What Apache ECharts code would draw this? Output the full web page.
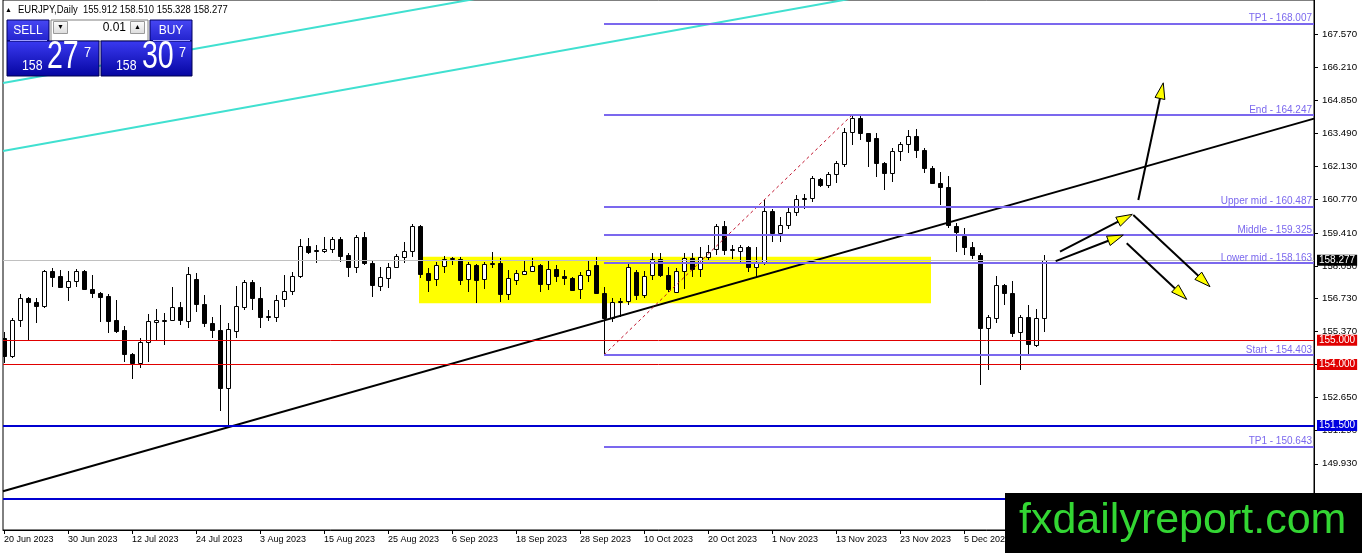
<!DOCTYPE html>
<html><head><meta charset="utf-8">
<script src="https://cdn.jsdelivr.net/npm/echarts@6.0.0/dist/echarts.min.js"></script>
<style>html,body{margin:0;padding:0;background:#fff}#c{width:1362px;height:553px}</style>
</head><body><div id="c"></div>
<script>
// ---- data (EURJPY daily, bar index 0 = 20 Jun 2023) ----
const opens = [155.09,154.36,155.83,156.74,156.57,156.41,157.85,157.64,157.19,157.43,157.85,157.11,156.94,156.82,155.83,155.42,154.44,154.07,154.93,155.75,155.79,155.83,156.37,155.79,157.52,156.49,155.71,155.42,153.04,155.38,156.37,157.39,156.74,155.96,155.96,156.70,157.02,157.64,158.87,158.66,158.66,158.74,159.16,158.50,158.01,159.24,158.17,157.23,157.56,158.01,158.42,158.66,159.69,157.76,157.52,158.05,158.34,158.34,157.52,158.09,157.52,158.13,158.17,156.90,157.48,157.72,157.85,158.09,157.31,157.93,157.64,157.56,157.11,157.68,158.09,156.94,155.91,156.57,156.61,157.80,156.86,157.68,158.34,157.68,156.98,157.85,158.38,157.93,158.42,158.74,159.69,158.70,158.66,158.83,158.01,158.17,160.31,159.41,159.73,160.27,160.80,160.84,161.62,161.37,161.82,162.24,163.55,164.13,163.51,163.30,162.28,161.87,162.77,163.06,163.39,162.81,162.07,161.45,161.29,159.69,159.28,158.83,158.50,155.50,155.91,157.27,156.94,155.34,155.96,154.81,155.912];
const highs = [155.34,155.92,156.90,156.78,156.74,157.89,157.97,157.89,157.85,157.93,157.89,157.68,156.98,156.90,156.66,155.59,154.48,155.09,156.08,156.29,156.12,157.19,156.57,158.01,157.76,156.86,155.96,156.45,155.71,157.23,157.48,157.48,157.19,156.25,156.86,157.68,157.80,159.16,159.20,158.91,159.24,159.24,159.24,158.58,159.32,159.45,158.30,158.01,158.17,158.54,159.03,159.77,159.72,157.97,158.21,158.46,158.42,158.42,158.21,158.13,158.21,158.62,158.38,157.89,157.89,158.25,158.38,158.12,158.25,158.09,157.89,157.60,157.80,158.25,158.42,157.19,156.74,156.74,158.13,157.89,157.85,158.58,158.58,158.01,157.97,158.58,158.58,158.83,158.91,159.77,159.90,158.91,158.91,158.85,158.83,160.76,160.39,160.06,160.43,160.97,161.00,161.74,161.66,161.91,162.36,163.72,164.247,164.21,163.53,163.51,162.32,162.89,163.14,163.63,163.67,162.89,162.15,161.91,161.74,159.82,159.61,159.03,158.58,156.04,157.64,157.29,157.43,156.04,156.45,156.29,158.510];
const lows = [154.07,154.27,155.55,155.00,155.71,156.33,157.19,157.15,156.61,157.19,157.08,156.74,155.75,155.30,155.30,154.11,153.41,153.86,154.11,155.00,154.81,155.79,155.63,155.50,156.16,155.55,155.09,152.10,151.40,155.09,156.25,156.25,155.50,155.79,155.75,156.37,156.86,157.56,158.54,158.17,158.58,158.58,158.21,157.60,157.76,158.09,156.78,157.02,157.15,157.97,158.17,158.42,157.56,156.98,157.23,157.76,158.09,157.27,156.98,156.53,157.11,157.97,156.57,156.66,157.27,157.68,157.80,156.98,157.06,157.39,157.27,157.03,156.70,157.39,156.92,154.403,155.75,155.96,156.45,156.66,156.74,157.48,157.60,156.98,156.96,157.11,157.60,157.60,158.30,158.50,158.50,158.34,158.21,157.80,157.60,158.09,159.04,159.04,159.57,160.10,160.39,160.68,161.29,161.25,161.45,162.11,163.02,163.22,162.11,161.70,161.17,161.50,162.36,162.69,162.48,161.87,161.43,160.55,159.61,158.62,158.50,158.34,153.17,153.78,155.71,156.45,155.13,153.78,154.40,154.73,155.328];
const closes = [154.36,155.83,156.74,156.57,156.41,157.85,157.60,157.19,157.43,157.85,157.11,156.94,156.78,155.79,155.38,154.44,154.07,154.93,155.79,155.83,155.83,156.37,155.83,157.72,156.49,155.71,155.42,153.04,155.46,156.41,157.39,156.74,155.96,156.00,156.66,157.02,157.64,158.87,158.62,158.70,158.74,159.16,158.46,158.01,159.24,158.17,157.27,157.60,158.01,158.46,158.66,159.69,157.72,157.48,158.09,158.34,158.38,157.48,158.13,157.48,158.13,158.17,156.90,157.56,157.76,157.85,158.05,157.31,157.93,157.64,157.56,157.06,157.68,157.89,156.94,155.91,156.57,156.61,158.01,156.86,157.64,158.34,157.68,157.11,157.85,158.38,157.93,158.42,158.62,159.69,158.70,158.74,158.83,158.01,158.17,160.31,159.41,159.73,160.27,160.80,160.84,161.66,161.37,161.82,162.28,163.55,164.13,163.51,163.18,162.28,161.87,162.77,163.06,163.39,162.81,162.07,161.45,161.29,159.73,159.45,158.83,158.50,155.50,155.96,157.27,156.94,155.30,155.96,154.85,155.91,158.277];

const tickIndex  = [0,8,16,24,32,40,48,56,64,72,80,88,96,104,112,120,128];
const tickLabels = ['20 Jun 2023','30 Jun 2023','12 Jul 2023','24 Jul 2023','3 Aug 2023','15 Aug 2023','25 Aug 2023','6 Sep 2023','18 Sep 2023','28 Sep 2023','10 Oct 2023','20 Oct 2023','1 Nov 2023','13 Nov 2023','23 Nov 2023','5 Dec 2023','15 Dec 2023'];
const priceTicks = [149.93,151.29,152.65,154.01,155.37,156.73,158.05,159.41,160.77,162.13,163.49,164.85,166.21,167.57];

const fibLevels = [168.007,164.247,160.487,159.325,158.163,154.403,150.643];
const fibNames  = ['TP1','End','Upper mid','Middle','Lower mid','Start','TP1'];
const fibStartBar = 75;
const redLevels  = [155.000,154.000];
const blueLevels = [151.500,148.500];
const blueTagged = [true,false];
const bidPrice = 158.277;
const trendLine    = [[-0.125,148.80],[163.75,164.10]];
const channelUpper = [[-0.125,165.56],[59.5,169.05]];
const channelLower = [[-0.125,162.77],[107,169.09]];
const fiboBase     = [[75,154.403],[106,164.247]];
const arrows = [[141.79,160.76,144.91,165.57],[132.0,158.64,141.04,160.17],[131.46,158.25,139.91,159.32],[141.16,160.14,150.75,157.20],[140.34,158.98,147.84,156.68]];
const zone = {x1:51.875, x2:115.875, y1:158.43, y2:156.52};

const X_MIN=-0.125, X_MAX=163.75, Y_MIN=147.21, Y_MAX=168.97;
const FONT='Liberation Sans';

const candleData = opens.map((o,i)=>[i,o,highs[i],lows[i],closes[i]]);

function renderCandle(params, api){
  const i=api.value(0), o=api.value(1), h=api.value(2), l=api.value(3), c=api.value(4);
  const pO=api.coord([i,o]), pC=api.coord([i,c]), pH=api.coord([i,h]), pL=api.coord([i,l]);
  const x=Math.round(pO[0]);
  const up=c>=o;
  let top=Math.round(Math.min(pO[1],pC[1])), bot=Math.round(Math.max(pO[1],pC[1]));
  if(bot-top<1) bot=top+1;
  return {type:'group', children:[
    {type:'line', shape:{x1:x+0.5,y1:Math.round(pH[1]),x2:x+0.5,y2:Math.round(pL[1])}, style:{stroke:'#000',lineWidth:1}},
    {type:'rect', shape:{x:x-1.5,y:top+0.5,width:4,height:bot-top}, style:{fill:up?'#fff':'#000',stroke:'#000',lineWidth:1}}
  ]};
}
function renderArrow(params, api){
  const a=api.coord([api.value(0),api.value(1)]), b=api.coord([api.value(2),api.value(3)]);
  const dx=b[0]-a[0], dy=b[1]-a[1], len=Math.hypot(dx,dy), ux=dx/len, uy=dy/len;
  const L=16, W=5, bx=b[0]-ux*L, by=b[1]-uy*L, px=-uy, py=ux;
  return {type:'group', children:[
    {type:'line', shape:{x1:a[0],y1:a[1],x2:bx,y2:by}, style:{stroke:'#000',lineWidth:2}},
    {type:'polygon', shape:{points:[[b[0],b[1]],[bx+px*W,by+py*W],[bx-px*W,by-py*W]]}, style:{fill:'#ffff00',stroke:'#000',lineWidth:1}}
  ]};
}
function tag(text,bg){
  return {show:true, position:'end', distance:3, formatter:text, backgroundColor:bg, color:'#fff',
          padding:[1,2,0,2], fontSize:10, fontFamily:FONT};
}

const markLines = [];
fibLevels.forEach((v,k)=>{
  markLines.push([{coord:[fibStartBar,v], lineStyle:{color:'#7b68ee',width:2,type:'solid'},
    label:{show:true, position:'insideEndTop', distance:[2,0], formatter:fibNames[k]+' - '+v.toFixed(3), color:'#7b68ee', fontSize:10, fontFamily:FONT}},
    {coord:[X_MAX,v]}]);
});
redLevels.forEach(v=>markLines.push({yAxis:v, lineStyle:{color:'#e00000',width:1,type:'solid'}, label:tag(v.toFixed(3),'#e00000')}));
blueLevels.forEach((v,k)=>markLines.push({yAxis:v, lineStyle:{color:'#0000d0',width:2,type:'solid'}, label:blueTagged[k]?tag(v.toFixed(3),'#0000e0'):{show:false}}));
markLines.push({yAxis:bidPrice, lineStyle:{color:'#c0c0c0',width:1,type:'solid'}, label:tag(bidPrice.toFixed(3),'#000')});

const blueGrad = new echarts.graphic.LinearGradient(0,0,0,1,[{offset:0,color:'#3a3af2'},{offset:1,color:'#0505a0'}]);
const btnGrad  = new echarts.graphic.LinearGradient(0,0,0,1,[{offset:0,color:'#4848f5'},{offset:1,color:'#2222cc'}]);
const greyGrad = new echarts.graphic.LinearGradient(0,0,0,1,[{offset:0,color:'#fdfdfd'},{offset:1,color:'#dcdcdc'}]);

const graphics = [
  {type:'text', x:5, y:10, z:50, style:{text:'▲', fontSize:7, fill:'#000', fontFamily:FONT, verticalAlign:'middle'}},
  {type:'text', x:18, y:10, scaleX:0.86, z:50, style:{text:'EURJPY,Daily  155.912 158.510 155.328 158.277', fontSize:11, fill:'#000', fontFamily:FONT, verticalAlign:'middle'}},
  // one-click panel
  {type:'rect', shape:{x:7,y:20,width:42,height:21}, z:50, style:{fill:btnGrad, stroke:'#000060', lineWidth:1}},
  {type:'text', x:28, y:31, z:51, style:{text:'SELL', fontSize:12, fill:'#fff', fontFamily:FONT, align:'center', verticalAlign:'middle'}},
  {type:'rect', shape:{x:51,y:20,width:97,height:21}, z:50, style:{fill:'#fff', stroke:'#808080', lineWidth:1}},
  {type:'rect', shape:{x:53.5,y:21.5,width:14,height:12}, z:51, style:{fill:greyGrad, stroke:'#9a9a9a', lineWidth:1}},
  {type:'text', x:60.5, y:27.5, z:52, style:{text:'▼', fontSize:7, fill:'#000', align:'center', verticalAlign:'middle'}},
  {type:'rect', shape:{x:130.5,y:21.5,width:14,height:12}, z:51, style:{fill:greyGrad, stroke:'#9a9a9a', lineWidth:1}},
  {type:'text', x:137.5, y:27.5, z:52, style:{text:'▲', fontSize:7, fill:'#000', align:'center', verticalAlign:'middle'}},
  {type:'text', x:126, y:27.5, z:52, style:{text:'0.01', fontSize:12, fill:'#000', fontFamily:FONT, align:'right', verticalAlign:'middle'}},
  {type:'rect', shape:{x:150,y:20,width:42,height:21}, z:50, style:{fill:btnGrad, stroke:'#000060', lineWidth:1}},
  {type:'text', x:171, y:31, z:51, style:{text:'BUY', fontSize:12, fill:'#fff', fontFamily:FONT, align:'center', verticalAlign:'middle'}},
  {type:'line', shape:{x1:10,y1:40.5,x2:47,y2:40.5}, z:52, style:{stroke:'#9f9fff', lineWidth:1}},
  {type:'line', shape:{x1:153,y1:40.5,x2:190,y2:40.5}, z:52, style:{stroke:'#9f9fff', lineWidth:1}},
  {type:'rect', shape:{x:7,y:41,width:92,height:35}, z:50, style:{fill:blueGrad, stroke:'#000050', lineWidth:1}},
  {type:'rect', shape:{x:101,y:41,width:91,height:35}, z:50, style:{fill:blueGrad, stroke:'#000050', lineWidth:1}},
  {type:'text', x:22, y:66, scaleX:0.82, z:51, style:{text:'158', fontSize:15, fill:'#fff', fontFamily:FONT, verticalAlign:'middle'}},
  {type:'text', x:47, y:58, scaleX:0.75, z:51, style:{text:'27', fontSize:38, fill:'#fff', fontFamily:FONT, verticalAlign:'middle'}},
  {type:'text', x:84, y:53, scaleX:0.85, z:51, style:{text:'7', fontSize:15, fill:'#fff', fontFamily:FONT, verticalAlign:'middle'}},
  {type:'text', x:116, y:66, scaleX:0.82, z:51, style:{text:'158', fontSize:15, fill:'#fff', fontFamily:FONT, verticalAlign:'middle'}},
  {type:'text', x:142, y:58, scaleX:0.75, z:51, style:{text:'30', fontSize:38, fill:'#fff', fontFamily:FONT, verticalAlign:'middle'}},
  {type:'text', x:179, y:53, scaleX:0.85, z:51, style:{text:'7', fontSize:15, fill:'#fff', fontFamily:FONT, verticalAlign:'middle'}},
  // watermark
  {type:'rect', shape:{x:1005,y:493,width:357,height:60}, z:100, style:{fill:'#000'}},
  {type:'text', x:1019, y:521, z:101, style:{text:'fxdailyreport.com', fontSize:43, fill:'#33d633', fontFamily:FONT, verticalAlign:'middle'}}
];

const chart = echarts.init(document.getElementById('c'), null, {renderer:'canvas'});
chart.setOption({
  animation:false,
  backgroundColor:'#fff',
  grid:{left:3, right:48, top:0, bottom:23, show:true, borderColor:'#000', borderWidth:1, backgroundColor:'transparent'},
  xAxis:{type:'value', min:X_MIN, max:X_MAX,
    axisLine:{show:true, onZero:false, lineStyle:{color:'#000'}},
    axisTick:{show:true, length:4, customValues:tickIndex, lineStyle:{color:'#000'}},
    splitLine:{show:false},
    axisLabel:{customValues:tickIndex, align:'left', margin:5, fontSize:9, color:'#000', fontFamily:FONT,
      formatter:v=>{const k=tickIndex.indexOf(Math.round(v)); return k>=0?tickLabels[k]:'';}}},
  yAxis:{type:'value', position:'right', min:Y_MIN, max:Y_MAX,
    axisLine:{show:true, onZero:false, lineStyle:{color:'#000'}},
    axisTick:{show:true, length:4, customValues:priceTicks, lineStyle:{color:'#000'}},
    splitLine:{show:false},
    axisLabel:{customValues:priceTicks, margin:8, fontSize:9.7, color:'#000', fontFamily:FONT, formatter:v=>v.toFixed(3)}},
  graphic:graphics,
  series:[
    {type:'line', name:'zone', data:[], z:1, silent:true,
      markArea:{silent:true, itemStyle:{color:'#ffff00', opacity:1}, data:[[{coord:[zone.x1,zone.y1]},{coord:[zone.x2,zone.y2]}]]}},
    {type:'line', name:'channelUpper', data:channelUpper, showSymbol:false, symbol:'none', z:2, silent:true, clip:true, lineStyle:{color:'#40e0d0', width:2}},
    {type:'line', name:'channelLower', data:channelLower, showSymbol:false, symbol:'none', z:2, silent:true, clip:true, lineStyle:{color:'#40e0d0', width:2}},
    {type:'custom', name:'EURJPY', data:candleData, renderItem:renderCandle, z:3, clip:true, encode:{x:0, y:[1,2,3,4]}},
    {type:'line', name:'levels', data:trendLine, showSymbol:false, symbol:'none', z:4, silent:true, clip:false,
      lineStyle:{color:'#000', width:2},
      markLine:{silent:true, symbol:['none','none'], animation:false, data:markLines}},
    {type:'line', name:'fiboBase', data:fiboBase, showSymbol:false, symbol:'none', z:4, silent:true,
      lineStyle:{color:'#c0102a', width:1, type:[3,3]}},
    {type:'custom', name:'arrows', data:arrows, renderItem:renderArrow, z:5, clip:false, encode:{x:[0,2], y:[1,3]}}
  ]
});
</script>
</body></html>
